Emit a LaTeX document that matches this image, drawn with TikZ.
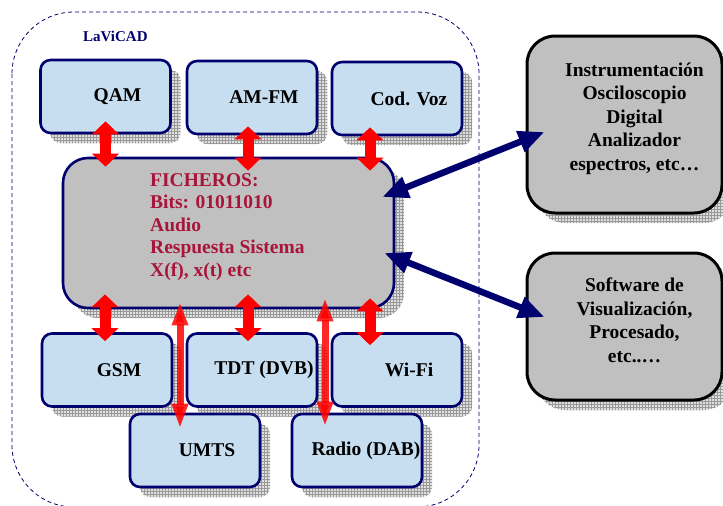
\documentclass[tikz,border=0pt]{standalone}
\usepackage{fontspec}
\setmainfont{Liberation Serif}
\usetikzlibrary{shadows,patterns,arrows.meta}
\definecolor{lnavy}{RGB}{0,0,110}
\definecolor{lblue}{RGB}{198,222,240}
\definecolor{lgray}{RGB}{192,192,192}
\definecolor{lcrimson}{RGB}{168,20,58}

\begin{document}
\begin{tikzpicture}[x=1pt,y=-1pt]
  \tikzset{grid shadow/.style={drop shadow={shadow xshift=10pt,shadow yshift=-10pt,opacity=1,fill=gray!25,postaction={pattern=grid,pattern color=gray!80}}},
    mod box/.style={draw=lnavy,line width=2.6pt,fill=lblue,rounded corners=10pt,minimum width=130pt,minimum height=73pt,inner sep=0pt,grid shadow},
    mod text/.style={font=\bfseries\fontsize{19.5}{22}\selectfont,xshift=12pt},
    out box/.style={draw=black,line width=3pt,fill=lgray,rounded corners=28pt,minimum width=195pt,inner sep=0pt,grid shadow},
    out text/.style={font=\bfseries\fontsize{19.5}{23.5}\selectfont,align=center,xshift=10pt,yshift=6pt},
    fat arrow/.style={red,line width=11pt,{Triangle[width=26pt,length=13pt]}-{Triangle[width=26pt,length=13pt]}},
    thin arrow/.style={red,opacity=0.85,line width=7pt,{Triangle[width=15pt,length=23pt]}-{Triangle[width=15pt,length=25pt]}},
    link arrow/.style={lnavy,line width=6.5pt,{Triangle[width=21pt,length=26pt]}-{Triangle[width=21pt,length=26pt]}}}
  \useasboundingbox (0,0) rectangle (723,506);

  % LaViCAD frame
  \draw[lnavy,line width=0.8pt,dash pattern=on 4pt off 3pt,rounded corners=62pt] (12,12) rectangle (479,507);
  \node[font=\bfseries\fontsize{15}{18}\selectfont,text=lnavy,anchor=west,inner sep=0pt] (lavicad) at (83,36) {LaViCAD};

  % modules
  \node[mod box] (qam) at (105.5,96.5) {};
  \node[mod text] (qamtext) at (qam) {QAM};
  \node[mod box] (amfm) at (252,97.5) {};
  \node[mod text] (amfmtext) at (amfm) {AM-FM};
  \node[mod box] (codvoz) at (397,98.5) {};
  \node[mod text] (codvoztext) at (codvoz) {Cod. Voz};
  \node[mod box] (gsm) at (107,370) {};
  \node[mod text] (gsmtext) at (gsm) {GSM};
  \node[mod box] (tdt) at (252,370) {};
  \node[mod text] (tdttext) at (tdt) {TDT (DVB)};
  \node[mod box] (wifi) at (397,370) {};
  \node[mod text] (wifitext) at (wifi) {Wi-Fi};
  \node[mod box] (umts) at (195,450.5) {};
  \node[mod text] (umtstext) at (umts) {UMTS};
  \node[mod box] (radio) at (357,450.5) {};
  \node[mod text,xshift=-3pt] (radiotext) at (radio) {Radio (DAB)};

  % files
  \node[draw=lnavy,line width=2.6pt,fill=lgray,rounded corners=25pt,minimum width=331pt,minimum height=150pt,grid shadow] (fich) at (228.5,233) {};
  \node[anchor=north west,align=left,text=lcrimson,inner sep=0pt,font=\bfseries\fontsize{19.5}{22.5}\selectfont] (fichtext) at (150,173) {FICHEROS:\\Bits: 01011010\\Audio\\Respuesta Sistema\\X(f), x(t) etc};

  % outside tools
  \node[out box,minimum height=177pt] (instr) at (624.5,124.5) {};
  \node[out text] (instrtext) at (instr) {Instrumentación\\Osciloscopio\\Digital\\Analizador\\espectros, etc\dots};
  \node[out box,minimum height=147pt] (soft) at (624.5,326.5) {};
  \node[out text] (softtext) at (soft) {Software de\\Visualización,\\Procesado,\\etc..\dots};

  % links
  \draw[fat arrow] ([yshift=13pt]qam.south) -- ([yshift=-10pt]qam.south |- fich.north);
  \draw[fat arrow] ([xshift=-4pt,yshift=9pt]amfm.south) -- ([xshift=-4pt,yshift=-14pt]amfm.south |- fich.north);
  \draw[fat arrow] ([xshift=-27pt,yshift=9pt]codvoz.south) -- ([xshift=-27pt,yshift=-14pt]codvoz.south |- fich.north);
  \draw[fat arrow] ([xshift=-2pt,yshift=15pt]gsm.north |- fich.south) -- ([xshift=-2pt,yshift=-9pt]gsm.north);
  \draw[fat arrow] ([xshift=-4pt,yshift=15pt]tdt.north |- fich.south) -- ([xshift=-4pt,yshift=-9pt]tdt.north);
  \draw[fat arrow] ([xshift=-27pt,yshift=11pt]wifi.north |- fich.south) -- ([xshift=-27pt,yshift=-13pt]wifi.north);
  \draw[thin arrow] ([xshift=-15pt,yshift=7pt]umts.north |- fich.south) -- ([xshift=-15pt,yshift=-16pt]umts.north);
  \draw[thin arrow] ([xshift=-32pt,yshift=11pt]radio.north |- fich.south) -- ([xshift=-32pt,yshift=-14pt]radio.north);
  \draw[link arrow] ([xshift=-13pt,yshift=36pt]fich.east) -- ([xshift=19pt,yshift=-7.5pt]instr.west);
  \draw[link arrow] ([xshift=-11pt,yshift=-20pt]fich.east) -- ([xshift=19pt,yshift=9.5pt]soft.west);
\end{tikzpicture}
\end{document}
